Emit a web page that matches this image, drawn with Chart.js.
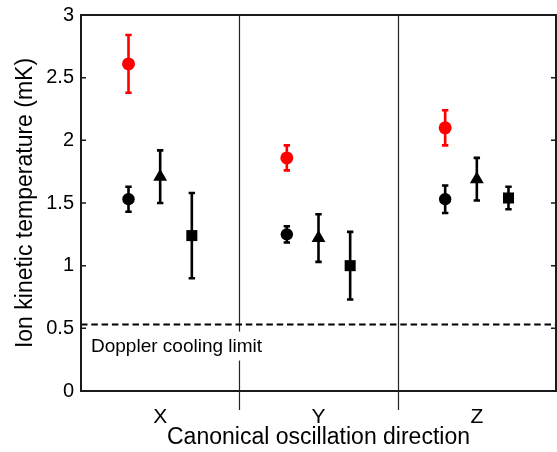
<!DOCTYPE html>
<html>
<head>
<meta charset="utf-8">
<script src="https://cdn.jsdelivr.net/npm/chart.js@4/dist/chart.umd.min.js"></script>
<style>
html,body{margin:0;padding:0;background:#fff;}
#wrap{width:557px;height:452px;}
</style>
</head>
<body>
<div id="wrap"><canvas id="c" width="557" height="452"></canvas></div>
<script>
// ---- data ----
const categories = ['X', 'Y', 'Z'];
const redCircle      = [2.61, 1.86, 2.10];
const redCircleErr   = [0.23, 0.10, 0.14];
const blackCircle    = [1.53, 1.25, 1.53];
const blackCircleErr = [0.10, 0.065, 0.11];
const triangle       = [1.71, 1.22, 1.69];
const triangleErr    = [0.21, 0.19, 0.17];
const square         = [1.24, 1.00, 1.54];
const squareErr      = [0.34, 0.27, 0.09];
const dopplerLimit   = 0.53;
const yTicks         = [0, 0.5, 1, 1.5, 2, 2.5, 3];
const separators     = [1.5, 2.5];

// ---- styling / layout ----
const FONT = "'Liberation Sans', Arial, Helvetica, sans-serif";
const RED = '#ff0000';
const BLACK = '#000000';
const offsets = { redCircle: -0.2, blackCircle: -0.2, triangle: 0, square: 0.2 };

function pts(vals, errs, off) {
  return vals.map((v, i) => ({ x: i + 1 + off, y: v, err: errs[i] }));
}

const datasets = [
  { label: 'red circle', data: pts(redCircle, redCircleErr, offsets.redCircle),
    pointStyle: 'circle', pointRadius: 6.5, backgroundColor: RED, borderColor: RED, borderWidth: 0, errColor: RED },
  { label: 'black circle', data: pts(blackCircle, blackCircleErr, offsets.blackCircle),
    pointStyle: 'circle', pointRadius: 6.2, backgroundColor: BLACK, borderColor: BLACK, borderWidth: 0, errColor: BLACK },
  { label: 'triangle', data: pts(triangle, triangleErr, offsets.triangle),
    pointStyle: 'triangle', pointRadius: 8, backgroundColor: BLACK, borderColor: BLACK, borderWidth: 0, errColor: BLACK },
  { label: 'square', data: pts(square, squareErr, offsets.square),
    pointStyle: 'rect', pointRadius: 7.8, backgroundColor: BLACK, borderColor: BLACK, borderWidth: 0, errColor: BLACK }
];

const decor = {
  id: 'decor',
  beforeDatasetsDraw(chart) {
    const ctx = chart.ctx;
    const xs = chart.scales.x, ys = chart.scales.y;
    const a = chart.chartArea;
    ctx.save();
    // separators (extend below the axis)
    ctx.strokeStyle = '#222';
    ctx.lineWidth = 1.2;
    separators.forEach(s => {
      const px = Math.round(xs.getPixelForValue(s)) + 0.5;
      ctx.beginPath();
      ctx.moveTo(px, a.top);
      ctx.lineTo(px, a.bottom + 19);
      ctx.stroke();
    });
    // doppler limit dashed line
    const dy = ys.getPixelForValue(dopplerLimit);
    ctx.setLineDash([6.5, 3.8]);
    ctx.lineWidth = 2;
    ctx.strokeStyle = BLACK;
    ctx.beginPath();
    ctx.moveTo(a.left, dy);
    ctx.lineTo(a.right, dy);
    ctx.stroke();
    ctx.setLineDash([]);
    // label with white background
    ctx.font = '19px ' + FONT;
    const txt = 'Doppler cooling limit';
    const tw = ctx.measureText(txt).width;
    const tx = a.left + 10, ty = dy + 22;
    ctx.fillStyle = '#fff';
    ctx.fillRect(tx - 3, ty - 15, tw + 6, 29);
    ctx.fillStyle = BLACK;
    ctx.textBaseline = 'middle';
    ctx.textAlign = 'left';
    ctx.fillText(txt, tx, ty);
    // error bars
    chart.data.datasets.forEach(ds => {
      ctx.strokeStyle = ds.errColor;
      ctx.lineWidth = 2.6;
      ds.data.forEach(p => {
        const px = xs.getPixelForValue(p.x);
        const top = ys.getPixelForValue(p.y + p.err);
        const bot = ys.getPixelForValue(p.y - p.err);
        ctx.beginPath();
        ctx.moveTo(px, top); ctx.lineTo(px, bot);
        ctx.moveTo(px - 3.2, top); ctx.lineTo(px + 3.2, top);
        ctx.moveTo(px - 3.2, bot); ctx.lineTo(px + 3.2, bot);
        ctx.stroke();
      });
    });
    ctx.restore();
  },
  afterDatasetsDraw(chart) {
    const ctx = chart.ctx;
    const ys = chart.scales.y;
    const a = chart.chartArea;
    ctx.save();
    ctx.strokeStyle = '#1a1a1a';
    ctx.lineWidth = 1.5;
    yTicks.forEach(t => {
      const py = ys.getPixelForValue(t);
      ctx.beginPath();
      ctx.moveTo(a.left, py); ctx.lineTo(a.left + 5, py);
      ctx.moveTo(a.right, py); ctx.lineTo(a.right - 5, py);
      ctx.stroke();
    });
    ctx.lineWidth = 2;
    ctx.strokeStyle = '#1a1a1a';
    ctx.strokeRect(a.left, a.top, a.right - a.left, a.bottom - a.top);
    ctx.restore();
  }
};

new Chart(document.getElementById('c'), {
  type: 'scatter',
  data: { datasets },
  options: {
    responsive: false,
    animation: false,
    devicePixelRatio: 1,
    layout: { autoPadding: false, padding: { top: 15, right: 1, left: 0, bottom: 0 } },
    plugins: { legend: { display: false }, tooltip: { enabled: false } },
    scales: {
      x: {
        type: 'linear', min: 0.5, max: 3.5,
        grid: { display: false, drawTicks: false },
        border: { display: false },
        afterBuildTicks(s) { s.ticks = categories.map((c, i) => ({ value: i + 1 })); },
        ticks: {
          callback: (v) => categories[Math.round(v) - 1] || '',
          color: BLACK, font: { family: FONT, size: 21 }, padding: 14, maxRotation: 0, autoSkip: false
        },
        title: { display: true, text: 'Canonical oscillation direction', color: BLACK,
                 font: { family: FONT, size: 23 }, padding: { top: 0, bottom: 1 } },
        afterFit(s) { s.height = 61; s.paddingLeft = 0; s.paddingRight = 0; }
      },
      y: {
        min: 0, max: 3,
        grid: { display: false, drawTicks: false },
        border: { display: false },
        afterBuildTicks(s) { s.ticks = yTicks.map(v => ({ value: v })); },
        ticks: { color: BLACK, font: { family: FONT, size: 20 }, padding: 7,
                 callback: (v) => String(v) },
        title: { display: true, text: 'Ion kinetic temperature (mK)', color: BLACK,
                 font: { family: FONT, size: 23 }, padding: { top: 12, bottom: 0 } },
        afterFit(s) { s.width = 81; s.paddingTop = 0; s.paddingBottom = 0; }
      }
    }
  },
  plugins: [decor]
});
</script>
</body>
</html>
